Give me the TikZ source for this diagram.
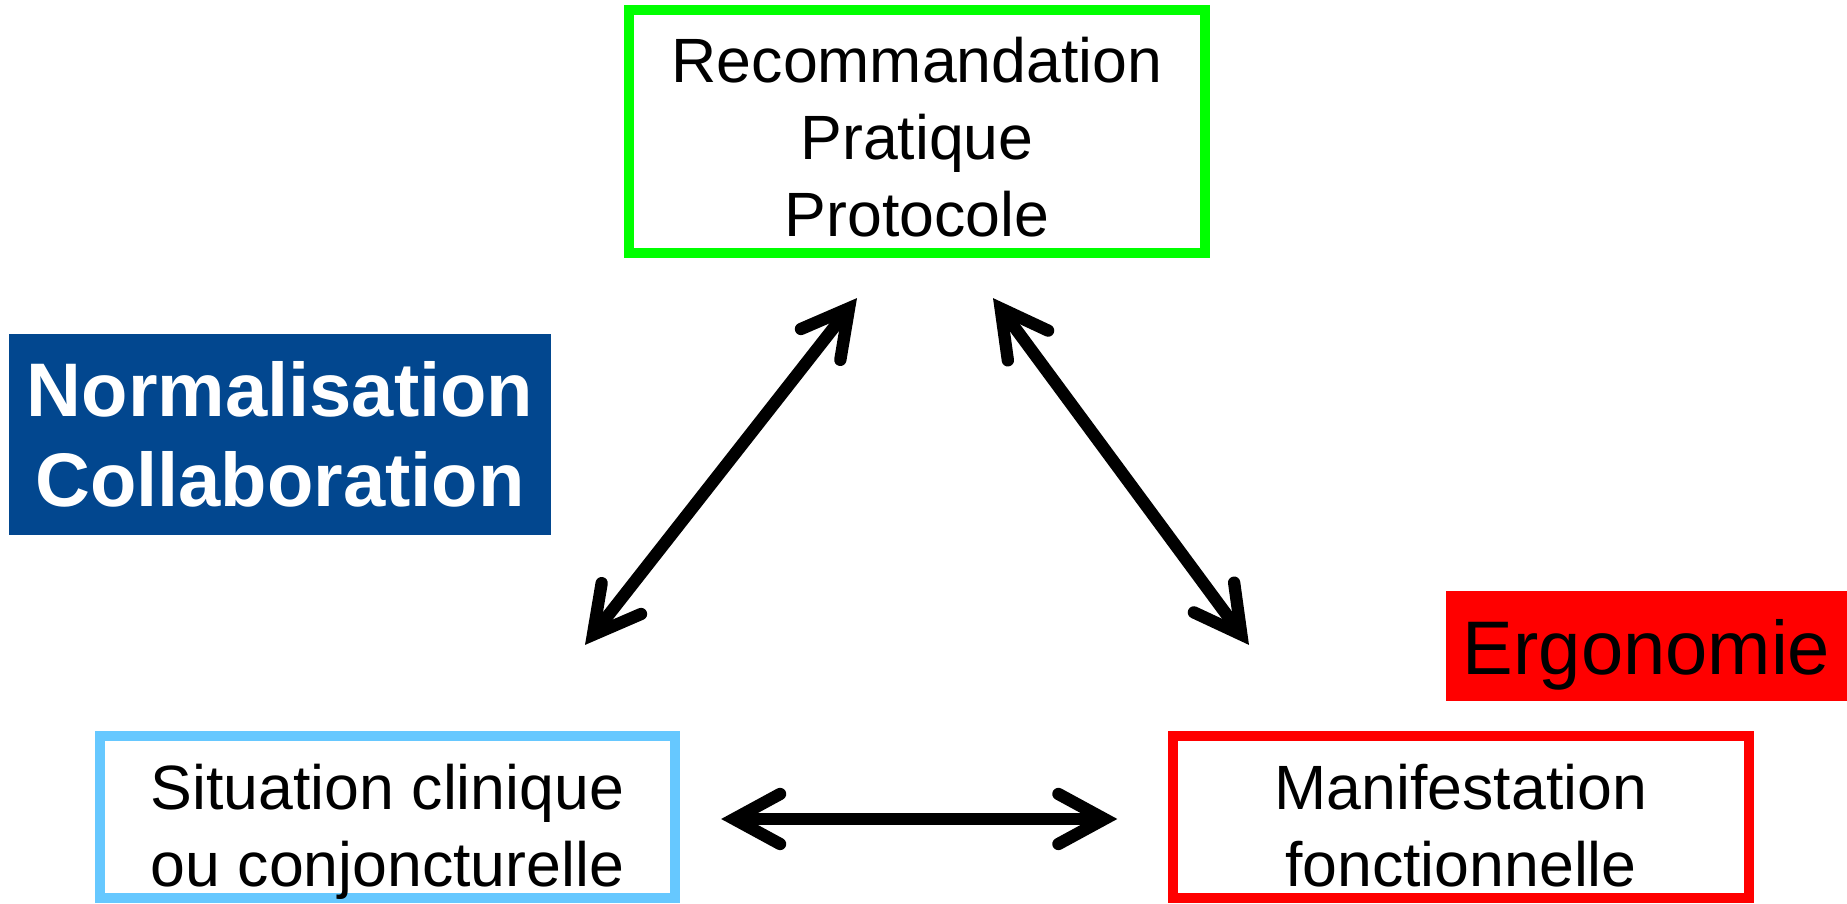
\documentclass[tikz,border=0pt]{standalone}
\usepackage{fontspec}
\setmainfont{Liberation Sans}
\usepackage{xcolor}
\usepackage{tikz}
\usetikzlibrary{positioning}
\usetikzlibrary{arrows.meta,calc}
\definecolor{vertvif}{RGB}{0,255,0}
\definecolor{bleuclair}{RGB}{102,200,255}
\definecolor{rougevif}{RGB}{255,0,0}
\definecolor{bleufonce}{RGB}{2,71,143}
\tikzset{barb/.tip = {Straight Barb[length=4.6mm,width=5mm,line cap=round,line join=miter]},
         edge/.style = {draw,barb-barb,line width=3.5pt}}

\begin{document}
\begin{tikzpicture}[x=0.01cm,y=-0.01cm,
    main box/.style={draw,line width=2.85pt,fill=white,align=center,inner sep=0pt,
        minimum width=5.75cm,minimum height=1.62cm,text height=1.38cm,text depth=0pt,
        font=\fontsize{17.8}{21.9}\selectfont},
    tag box/.style={inner sep=0pt,align=center,font=\fontsize{21.6}{25.6}\selectfont}]
    \useasboundingbox (0,0) rectangle (1847,904);
    \node[main box, draw=vertvif, minimum width=5.76cm, minimum height=2.43cm, text height=2.09cm] (reco) at (917,131.5) {Recommandation\\Pratique\\Protocole};
    \node[main box, draw=bleuclair] (situation) at (387.5,817) {Situation clinique\\ou conjoncturelle};
    \node[main box, draw=rougevif] (manif) at (1461,817) {Manifestation\\fonctionnelle};
    \node[tag box, fill=bleufonce, text=white, font=\fontsize{21.6}{25.6}\selectfont\bfseries,
          minimum width=5.42cm, minimum height=2.01cm] (norm) at (280,434.5) {Normalisation\\Collaboration};
    \node[tag box, fill=rougevif, minimum width=4.01cm, minimum height=1.10cm,
          text height=0.566cm, text depth=0pt] (ergo) at (1646.5,646) {Ergonomie};

    \coordinate (recoG) at ($(reco.south)+(-60,40)$);
    \coordinate (recoD) at ($(reco.south)+(76,40)$);
    \coordinate (situationH) at ($(situation.north)+(197.5,-86)$);
    \coordinate (manifH) at ($(manif.north)+(-212,-86)$);
    \coordinate (situationD) at ($(situation.east)+(41,2)$);
    \coordinate (manifG) at ($(manif.west)+(-51,2)$);

    \path
        (recoG) edge[edge] (situationH)
        (recoD) edge[edge] (manifH)
        (situationD) edge[edge] (manifG)
        ;
\end{tikzpicture}
\end{document}
